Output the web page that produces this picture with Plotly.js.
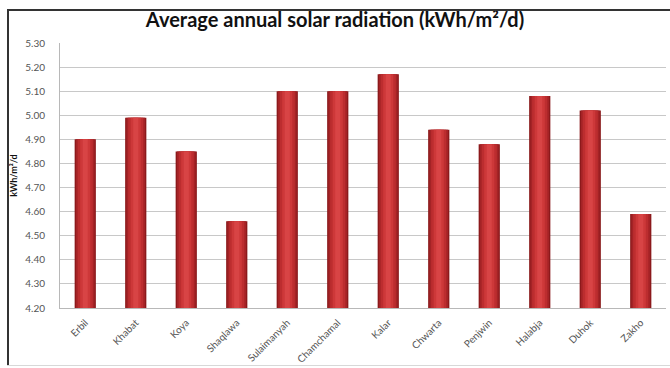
<!DOCTYPE html>
<html>
<head>
<meta charset="utf-8">
<script src="https://cdn.plot.ly/plotly-3.0.1.min.js"></script>
<style>
  html, body { margin: 0; padding: 0; background: #fff; overflow: hidden; width: 670px; height: 368px; }
  #wrap { position: relative; width: 670px; height: 368px; overflow: hidden; }
  #chart { width: 670px; height: 368px; position: absolute; left: 0; top: 0; }
  .edge { position: absolute; pointer-events: none; }
  #edge-left { left: 7px; top: 9px; width: 2px; height: 357px; background: #333; }
  #edge-top { left: 7px; top: 9px; width: 663px; height: 2px; background: #333; }
  #edge-bottom { left: 7px; top: 365px; width: 663px; height: 1px; background: #d8d8d8; }
</style>
</head>
<body>
<div id="wrap">
  <div id="chart"></div>
  <div class="edge" id="edge-left"></div>
  <div class="edge" id="edge-top"></div>
  <div class="edge" id="edge-bottom"></div>
</div>
<script>
// Average annual solar radiation per station (kWh/m²/d)
const stations = ["Erbil", "Khabat", "Koya", "Shaqlawa", "Sulaimanyah", "Chamchamal",
                  "Kalar", "Chwarta", "Penjwin", "Halabja", "Duhok", "Zakho"];
const radiation = [4.90, 4.99, 4.85, 4.56, 5.10, 5.10, 5.17, 4.94, 4.88, 5.08, 5.02, 4.59];
const yTicks = [4.20, 4.30, 4.40, 4.50, 4.60, 4.70, 4.80, 4.90, 5.00, 5.10, 5.20, 5.30];

// Stacked layers of narrowing bars give each column a rounded, cylinder-like shading
const shades = [
  { width: 0.42, color: "#8a191b" },
  { width: 0.37, color: "#a42326" },
  { width: 0.30, color: "#bc2d2f" },
  { width: 0.20, color: "#cd3839" },
  { width: 0.10, color: "#d84445" }
];

const traces = shades.map(s => ({
  type: "bar",
  x: stations,
  y: radiation.map(v => v - 4.20),
  base: 4.20,
  width: s.width,
  marker: { color: s.color, line: { width: 0 } },
  hoverinfo: "skip",
  showlegend: false
}));

const layout = {
  width: 670,
  height: 368,
  margin: { l: 60, r: 4, t: 43, b: 60 },
  paper_bgcolor: "#fff",
  plot_bgcolor: "#fff",
  barmode: "overlay",
  title: {
    text: "<b>Average annual solar radiation (kWh/m²/d)</b>",
    font: { family: "Lato, 'Open Sans', sans-serif", size: 20, color: "#111" },
    x: 0.5, xanchor: "center", xref: "container",
    y: 0.945, yanchor: "middle"
  },
  xaxis: {
    type: "category",
    tickangle: -45,
    tickfont: { family: "Lato, sans-serif", size: 10, color: "#555" },
    showline: true, linecolor: "#b8b8b8", linewidth: 1,
    ticks: "", showgrid: false,
    ticklabelstandoff: 4
  },
  yaxis: {
    range: [4.20, 5.30],
    tickvals: yTicks,
    ticktext: yTicks.map(v => v.toFixed(2)),
    tickfont: { family: "Lato, sans-serif", size: 10, color: "#555" },
    showline: true, linecolor: "#b8b8b8", linewidth: 1,
    gridcolor: "#c8c8c8", gridwidth: 1,
    ticks: "", ticklen: 0, zeroline: false,
    ticklabelstandoff: 12,
    title: {
      text: "<b>kWh/m²/d</b>",
      font: { family: "Lato, sans-serif", size: 9, color: "#111" },
      standoff: 6
    }
  }
};

Plotly.newPlot("chart", traces, layout, { staticPlot: true, displayModeBar: false });
</script>
</body>
</html>
